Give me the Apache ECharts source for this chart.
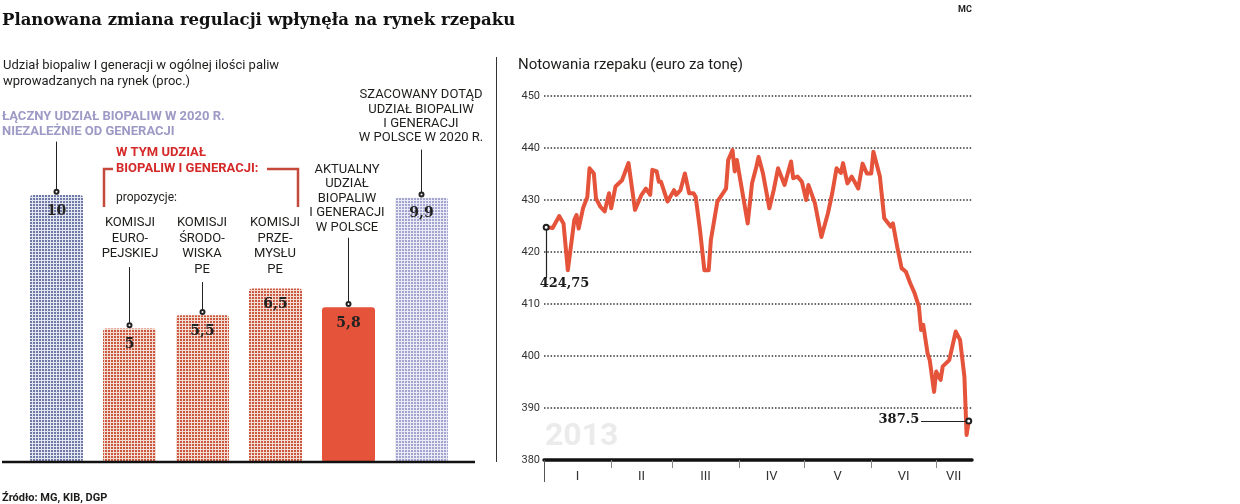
<!DOCTYPE html>
<html>
<head>
<meta charset="utf-8">
<script src="https://cdn.jsdelivr.net/npm/echarts@6/dist/echarts.min.js"></script>
<style>
  html, body { margin: 0; padding: 0; background: #fff; }
  #chart { width: 1240px; height: 504px; }
</style>
</head>
<body>
<div id="chart"></div>
<script>
// lewy wykres: udzial biopaliw (proc.)
const barCategories = ['Łączny 2020', 'Komisja Europejska', 'Komisja Środowiska PE', 'Komisja Przemysłu PE', 'Aktualny w Polsce', 'Szacowany w Polsce 2020']
const barValues = [10, 5, 5.5, 6.5, 5.8, 9.9]

// prawy wykres: notowania rzepaku, dzien roku 2013 -> euro/t
const priceDays = [1, 4, 7, 9, 11, 14, 15, 16, 18, 20, 21, 23, 24, 26, 28, 30, 31, 33, 36, 39,
  42, 45, 47, 49, 50, 52, 53, 54, 57, 60, 61, 63, 65, 67, 69, 70, 72, 74, 76, 77,
  80, 84, 85, 87, 88, 89, 94, 96, 98, 99, 101, 104, 106, 108, 111, 114, 115, 117, 119, 121,
  122, 125, 128, 131, 133, 135, 137, 138, 140, 142, 145, 147, 149, 151, 152, 155, 157, 160, 161, 163,
  165, 167, 169, 171, 173, 174, 175, 177, 178, 180, 181, 183, 184, 187, 190, 192, 194, 195, 196]
const prices = [424.75, 424.6, 426.9, 425.5, 416.5, 426.2, 427.1, 424.5, 428.4, 430.6, 436.1, 435.1, 430.3, 428.7, 427.8, 431.3, 428.4, 432.6, 433.8, 437.1,
  428.1, 431, 432.2, 431, 435.8, 435.5, 433.5, 433.5, 429.7, 431.9, 431, 431.9, 435.1, 431.3, 431.3, 430.6, 424.2, 416.5, 416.5, 422.3,
  429.7, 432.2, 437.7, 439.6, 435.5, 437.7, 425.5, 433.2, 436.4, 438.3, 435.2, 428.4, 431.9, 436.1, 432.9, 437.4, 434.2, 434.5, 433.5, 430,
  432.9, 429.4, 422.9, 427.4, 431.3, 436.1, 435.2, 437.1, 433.2, 434.5, 432.2, 437, 435.1, 435.1, 439.3, 434.5, 426.5, 424.9, 425.5, 421,
  416.9, 416.2, 414, 412.1, 409.5, 405, 406, 400.5, 399.2, 393.1, 397, 395.4, 398, 399.2, 404.7, 403.1, 396, 384.8, 387.5]

const monthLabels = ['I', 'II', 'III', 'IV', 'V', 'VI', 'VII']
const monthStarts = [0, 31, 59, 90, 120, 151, 181]
const monthMids = [15.5, 45, 74.5, 105, 135.5, 166, 189]

const SANS = 'Roboto, "Noto Sans", sans-serif'
const SERIF = '"DejaVu Serif", serif'
const INK = '#1d1d1b'

// kropkowany raster slupkow
function dotPattern (dot, bg) {
  const c = document.createElement('canvas')
  c.width = 3
  c.height = 3
  const ctx = c.getContext('2d')
  ctx.fillStyle = bg
  ctx.fillRect(0, 0, 3, 3)
  ctx.fillStyle = dot
  ctx.fillRect(0, 0, 2, 2)
  return { image: c, repeat: 'repeat' }
}
const blueDots = dotPattern('#6f79a8', '#e4e6f0')
const redDots = dotPattern('#c9583f', '#f3dcd3')
const lilacDots = dotPattern('#a4a4d0', '#ebebf5')
const barFills = [blueDots, redDots, redDots, redDots, '#e4533a', lilacDots]
// gdzie koncza sie kreski odnosnikow (w jednostkach osi)
const leaderTop = [12, 7.3, 6.74, null, 8.4, 11.7]

function txt (text, x, y, style) {
  return {
    type: 'text',
    x: x,
    y: y,
    style: Object.assign({ text: text, fill: INK, fontFamily: SANS, fontSize: 13 }, style)
  }
}

const lastIdx = prices.length - 1

const myChart = echarts.init(document.getElementById('chart'))
myChart.setOption({
  animation: false,
  textStyle: { fontFamily: SANS },
  grid: [
    { left: 20, top: 61.5, width: 438, bottom: 42 },
    { left: 544, top: 96, right: 268, bottom: 44 }
  ],
  xAxis: [
    {
      gridIndex: 0,
      type: 'category',
      data: barCategories,
      axisLine: { show: false },
      axisTick: { show: false },
      axisLabel: { show: false }
    },
    {
      gridIndex: 1,
      type: 'value',
      position: 'bottom',
      min: 0,
      max: 197.5,
      axisLine: { lineStyle: { color: '#111', width: 3.5 } },
      axisTick: { customValues: monthStarts, length: 8, lineStyle: { color: '#888', width: 1 } },
      axisLabel: {
        customValues: monthMids,
        formatter: function (v) { return monthLabels[monthMids.indexOf(v)] },
        color: '#333',
        fontSize: 13,
        margin: 10
      },
      splitLine: { show: false }
    },
    {
      gridIndex: 1,
      type: 'value',
      position: 'bottom',
      min: 0,
      max: 197.5,
      axisLine: { show: false },
      axisTick: { customValues: [0], length: 22, lineStyle: { color: '#555', width: 1 } },
      axisLabel: { show: false },
      splitLine: { show: false }
    }
  ],
  yAxis: [
    {
      gridIndex: 0,
      type: 'value',
      min: 0,
      max: 15,
      show: false,
      splitLine: { show: false }
    },
    {
      gridIndex: 1,
      type: 'value',
      min: 380,
      max: 450,
      interval: 10,
      axisLine: { show: false },
      axisTick: { show: false },
      axisLabel: { color: '#333', fontSize: 11, margin: 4 },
      splitLine: { lineStyle: { color: '#333', width: 1.5, type: [1.5, 1.8] } }
    }
  ],
  series: [
    {
      type: 'bar',
      xAxisIndex: 0,
      yAxisIndex: 0,
      barWidth: 53,
      data: barValues.map(function (v, i) {
        return { value: v, itemStyle: { color: barFills[i], borderRadius: 3 } }
      }),
      label: {
        show: true,
        position: 'insideTop',
        distance: 9,
        fontFamily: SERIF,
        fontWeight: 'bold',
        fontSize: 14,
        color: '#222',
        formatter: function (p) { return String(p.value).replace('.', ',') }
      },
      markLine: {
        silent: true,
        symbol: ['none', 'none'],
        label: { show: false },
        lineStyle: { color: '#222', width: 1, type: 'solid' },
        data: barValues.map(function (v, i) {
          if (leaderTop[i] == null) return null
          return [{ coord: [barCategories[i], v + 0.12] }, { coord: [barCategories[i], leaderTop[i]] }]
        }).filter(Boolean)
      },
      markPoint: {
        silent: true,
        symbol: 'emptyCircle',
        symbolSize: 4,
        itemStyle: { color: '#222', borderWidth: 1 },
        label: { show: false },
        data: barValues.map(function (v, i) {
          if (leaderTop[i] == null) return null
          return { coord: [barCategories[i], v + 0.12] }
        }).filter(Boolean)
      }
    },
    {
      type: 'line',
      xAxisIndex: 1,
      yAxisIndex: 1,
      data: priceDays.map(function (d, i) { return [d, prices[i]] }),
      symbol: 'none',
      z: 3,
      lineStyle: { color: '#e4533a', width: 4, join: 'round', cap: 'round' },
      markLine: {
        silent: true,
        symbol: ['none', 'none'],
        label: { show: false },
        lineStyle: { color: '#222', width: 1.2, type: 'solid' },
        data: [
          [{ coord: [priceDays[0], prices[0]] }, { coord: [priceDays[0], 415] }],
          [{ coord: [priceDays[lastIdx], prices[lastIdx]] }, { coord: [174, prices[lastIdx]] }]
        ]
      },
      markPoint: {
        silent: true,
        symbol: 'emptyCircle',
        symbolSize: 5,
        itemStyle: { color: '#222', borderWidth: 1 },
        label: { show: true, fontFamily: SERIF, fontWeight: 'bold', fontSize: 13, color: '#1a1a1a' },
        data: [
          { coord: [priceDays[0], prices[0]], label: { formatter: '424,75', position: [-3, 60], align: 'left', verticalAlign: 'middle' } },
          { coord: [priceDays[lastIdx], prices[lastIdx]], label: { formatter: '387.5', position: [-46, 2.5], align: 'right', verticalAlign: 'middle' } }
        ]
      }
    }
  ],
  graphic: [
    txt('Planowana zmiana regulacji wpłynęła na rynek rzepaku', 2, 21, { fontFamily: SERIF, fontWeight: 'bold', fontSize: 16.5, verticalAlign: 'middle', fill: '#111' }),
    txt('MC', 958, 10, { fontSize: 9, fontWeight: 'bold', verticalAlign: 'middle' }),
    txt('Udział biopaliw I generacji w ogólnej ilości paliw\nwprowadzanych na rynek (proc.)', 3, 58, { fontSize: 13, lineHeight: 16 }),
    txt('Notowania rzepaku (euro za tonę)', 518, 65, { fontSize: 15, verticalAlign: 'middle' }),
    txt('Źródło: MG, KIB, DGP', 2, 498, { fontSize: 11, fontWeight: 'bold', verticalAlign: 'middle' }),
    { type: 'line', z: 5, shape: { x1: 496.5, y1: 57, x2: 496.5, y2: 462 }, style: { stroke: '#333', lineWidth: 1 } },
    { type: 'line', z: 10, shape: { x1: 2, y1: 462, x2: 475, y2: 462 }, style: { stroke: '#111', lineWidth: 2.5 } },
    // odnosniki nad slupkami
    txt('ŁĄCZNY UDZIAŁ BIOPALIW W 2020 R.\nNIEZALEŻNIE OD GENERACJI', 2, 109.5, { fontSize: 13, fontWeight: 'bold', lineHeight: 15, fill: '#9d9ac6' }),
    txt('W TYM UDZIAŁ\nBIOPALIW I GENERACJI:', 116, 145, { fontSize: 13, fontWeight: 'bold', lineHeight: 16, fill: '#d42a2a' }),
    { type: 'polyline', z: 5, shape: { points: [[104, 207], [104, 169], [113, 169]] }, style: { stroke: '#c4493a', lineWidth: 2.5, fill: null } },
    { type: 'polyline', z: 5, shape: { points: [[267, 169], [298, 169], [298, 207]] }, style: { stroke: '#c4493a', lineWidth: 2.5, fill: null } },
    txt('propozycje:', 116, 198, { fontSize: 12, verticalAlign: 'middle' }),
    txt('KOMISJI\nEURO-\nPEJSKIEJ', 130, 215, { align: 'center', lineHeight: 15.5 }),
    txt('KOMISJI\nŚRODO-\nWISKA\nPE', 202, 215, { align: 'center', lineHeight: 15.5 }),
    txt('KOMISJI\nPRZE-\nMYSŁU\nPE', 275, 215, { align: 'center', lineHeight: 15.5 }),
    txt('AKTUALNY\nUDZIAŁ\nBIOPALIW\nI GENERACJI\nW POLSCE', 347, 162, { align: 'center', lineHeight: 14.5 }),
    txt('SZACOWANY DOTĄD\nUDZIAŁ BIOPALIW\nI GENERACJI\nW POLSCE W 2020 R.', 421, 88, { align: 'center', lineHeight: 14.3 }),
    txt('2013', 545, 437, { fontSize: 32, fontWeight: 'bold', fill: '#ebebeb', verticalAlign: 'middle' })
  ]
})
</script>
</body>
</html>
